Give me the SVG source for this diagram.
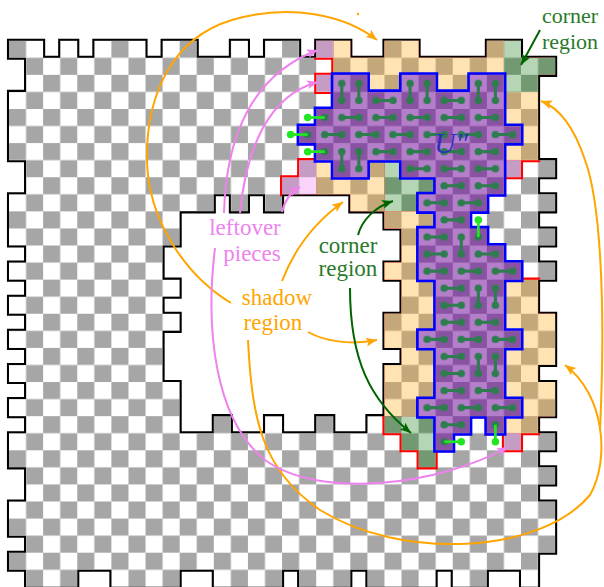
<svg xmlns="http://www.w3.org/2000/svg" width="604" height="587" viewBox="0 0 604 587">
<defs>
<style>
.lbl{font-family:'Liberation Serif',serif;font-size:23px;text-anchor:middle}
.or{fill:none;stroke:#ffa500;stroke-width:2}
.pk{fill:none;stroke:#ee82ee;stroke-width:2}
.dg{fill:none;stroke:#006400;stroke-width:2}
.dom{fill:none;stroke:#2e7d4e;stroke-width:0.18;stroke-linecap:round}
.bl{stroke:#22e622;stroke-width:0.16}
.bd{fill:#22e622}
</style>
<pattern id="pg" width="2" height="2" patternUnits="userSpaceOnUse"><rect width="2" height="2" fill="#fff"/><rect width="1" height="1" fill="#a6a6a6"/><rect x="1" y="1" width="1" height="1" fill="#a6a6a6"/></pattern>
<pattern id="ps" width="2" height="2" patternUnits="userSpaceOnUse"><rect width="2" height="2" fill="#ffe3b3"/><rect width="1" height="1" fill="#c4a87a"/><rect x="1" y="1" width="1" height="1" fill="#c4a87a"/></pattern>
<pattern id="pc" width="2" height="2" patternUnits="userSpaceOnUse"><rect width="2" height="2" fill="#b5d5b5"/><rect width="1" height="1" fill="#739973"/><rect x="1" y="1" width="1" height="1" fill="#739973"/></pattern>
<pattern id="pl" width="2" height="2" patternUnits="userSpaceOnUse"><rect width="2" height="2" fill="#fad4fa"/><rect width="1" height="1" fill="#c49cc4"/><rect x="1" y="1" width="1" height="1" fill="#c49cc4"/></pattern>
<pattern id="pu" width="2" height="2" patternUnits="userSpaceOnUse"><rect width="2" height="2" fill="#b47ecb"/><rect width="1" height="1" fill="#8a52a2"/><rect x="1" y="1" width="1" height="1" fill="#8a52a2"/><g fill="#2e7d4e"><circle cx="0.5" cy="0.5" r="0.22"/><circle cx="1.5" cy="0.5" r="0.22"/><circle cx="0.5" cy="1.5" r="0.22"/><circle cx="1.5" cy="1.5" r="0.22"/></g></pattern>
<marker id="ao" markerUnits="userSpaceOnUse" markerWidth="12" markerHeight="10" refX="11" refY="4.5" orient="auto"><path d="M0,0 L11,4.5 L0,9 L2.5,4.5z" fill="#ffa500"/></marker>
<marker id="ap" markerUnits="userSpaceOnUse" markerWidth="12" markerHeight="10" refX="11" refY="4.5" orient="auto"><path d="M0,0 L11,4.5 L0,9 L2.5,4.5z" fill="#ee82ee"/></marker>
<marker id="ag" markerUnits="userSpaceOnUse" markerWidth="12" markerHeight="10" refX="11" refY="4.5" orient="auto"><path d="M0,0 L11,4.5 L0,9 L2.5,4.5z" fill="#006400"/></marker>
<path id="bdp" d="M0 0h2v1h-2z M3 0h1v1h-1z M5 0h3v1h-3z M9 0h2v1h-2z M13 0h1v1h-1z M15 0h2v1h-2z M18 0h2v1h-2z M22 0h2v1h-2z M28 0h2v1h-2z
M1 1h31v1h-31z M1 2h30v1h-30z M0 3h31v4h-31z M1 7h31v1h-31z M1 8h30v1h-30z
M0 9h12v1h-12z M13 9h1v1h-1z M15 9h1v1h-1z M20 9h12v1h-12z
M0 10h10v1h-10z M22 10h9v1h-9z M0 11h10v1h-10z M23 11h9v1h-9z
M1 12h8v1h-8z M23 12h8v1h-8z M0 13h9v1h-9z M22 13h10v1h-10z
M1 14h9v1h-9z M23 14h8v1h-8z M0 15h9v1h-9z M23 15h8v1h-8z
M1 16h9v1h-9z M22 16h10v1h-10z M0 17h9v1h-9z M22 17h10v1h-10z
M1 18h8v1h-8z M23 18h9v1h-9z M0 19h9v1h-9z M22 19h9v1h-9z
M1 20h9v1h-9z M22 20h10v1h-10z M0 21h10v1h-10z M22 21h10v1h-10z
M1 22h9v1h-9z M12 22h1v1h-1z M15 22h1v1h-1z M18 22h1v1h-1z M21 22h10v1h-10z
M0 23h32v1h-32z M0 24h31v1h-31z M1 25h31v1h-31z M1 26h30v1h-30z M0 27h32v2h-32z M1 29h31v1h-31z M0 30h31v1h-31z
M1 31h3v1h-3z M6 31h4v1h-4z M12 31h4v1h-4z M17 31h3v1h-3z M21 31h4v1h-4z M26 31h2v1h-2z M30 31h1v1h-1z"/>
<path id="sp" d="M19 0h1v1h-1z M22 0h2v1h-2z M28 0h1v1h-1z M19 1h10v1h-10z M21 2h2v1h-2z M25 2h2v1h-2z M29 3h2v2h-2z M30 5h1v1h-1z M29 6h2v1h-2z
M18 7h1v1h-1z M21 7h1v1h-1z M18 8h4v1h-4z M20 9h2v1h-2z M22 10h3v1h-3z M23 11h1v2h-1z M22 13h2v1h-2z
M23 14h2v2h-2z M29 14h2v2h-2z M22 16h3v1h-3z M29 16h3v1h-3z M22 17h2v1h-2z M30 17h2v1h-2z M23 18h2v1h-2z M29 18h3v1h-3z
M22 19h3v1h-3z M29 19h2v1h-2z M22 20h3v1h-3z M29 20h3v1h-3z M22 21h2v1h-2z M30 21h2v1h-2z M29 22h2v1h-2z"/>
<path id="cp" d="M29 0h1v1h-1z M29 1h3v1h-3z M29 2h2v1h-2z M22 7h1v1h-1z M22 8h3v1h-3z M22 9h2v1h-2z M22 22h3v1h-3z M23 23h2v1h-2z M24 24h1v1h-1z"/>
<path id="lp" d="M18 0h1v1h-1z M18 2h1v1h-1z M17 7h1v1h-1z M16 8h2v1h-2z M29 7h1v1h-1z M29 23h1v1h-1z"/>
<path id="up" d="M19 2h2v1h-2z M23 2h2v1h-2z M27 2h2v1h-2z M19 3h10v1h-10z M18 4h11v1h-11z M17 5h13v1h-13z M18 6h11v1h-11z
M19 7h2v1h-2z M23 7h6v1h-6z M25 8h4v1h-4z M24 9h4v1h-4z M25 10h2v1h-2z M24 11h4v1h-4z M24 12h5v1h-5z M24 13h6v1h-6z
M25 14h4v3h-4z M24 17h6v1h-6z M25 18h4v3h-4z M24 21h6v1h-6z M25 22h2v1h-2z M28 22h1v1h-1z M25 23h1v1h-1z"/>
<clipPath id="cb"><use href="#bdp"/></clipPath>
</defs>
<rect width="604" height="587" fill="#fff"/>
<g id="board" transform="translate(9 40.7) scale(17.0667)">
<use href="#bdp" fill="none" stroke="#000" stroke-width="0.24"/>
<use href="#bdp" fill="url(#pg)"/>
<g id="red-outline" clip-path="url(#cb)" fill="none" stroke="#f00" stroke-width="0.24">
<use href="#sp"/><use href="#cp"/><use href="#lp"/><use href="#up"/>
</g>
<use id="shadow-cells" href="#sp" fill="url(#ps)"/>
<use id="corner-cells" href="#cp" fill="url(#pc)"/>
<use id="leftover-cells" href="#lp" fill="url(#pl)"/>
<use href="#up" fill="none" stroke="#00f" stroke-width="0.3"/>
<use id="U-cells" href="#up" fill="url(#pu)"/>
<path id="dominoes" class="dom" d="M19.5 2.5v1 M20.5 2.5v1 M23.5 2.5v1 M24.5 2.5v1 M27.5 2.5v1 M28.5 2.5v1
M21.5 3.5h1 M25.5 3.5h1
M19.5 4.5h1 M21.5 4.5h1 M23.5 4.5h1 M25.5 4.5h1 M27.5 4.5h1
M18.5 5.5h1 M20.5 5.5h1 M22.5 5.5h1 M24.5 5.5h1 M26.5 5.5h1 M28.5 5.5h1
M19.5 6.5v1 M20.5 6.5v1 M21.5 6.5h1 M23.5 6.5h1 M25.5 6.5h1 M27.5 6.5h1
M23.5 7.5h1 M25.5 7.5h1 M27.5 7.5h1
M25.5 8.5h1 M27.5 8.5h1
M24.5 9.5h1 M26.5 9.5h1
M25.5 10.5h1
M24.5 11.5h1 M26.5 11.5v1
M24.5 12.5h1 M27.5 12.5h1
M24.5 13.5h1 M26.5 13.5h1 M28.5 13.5h1
M25.5 14.5h1 M27.5 14.5v1 M28.5 14.5v1
M25.5 15.5h1
M25.5 16.5h1 M27.5 16.5h1
M24.5 17.5h1 M26.5 17.5h1 M28.5 17.5h1
M25.5 18.5h1 M27.5 18.5v1 M28.5 18.5v1
M25.5 19.5h1
M25.5 20.5h1 M27.5 20.5h1
M24.5 21.5h1 M26.5 21.5h1 M28.5 21.5h1
M25.5 22.5h1"/>
<g id="outside-dominoes">
<line class="bl" x1="17.5" y1="4.5" x2="18.5" y2="4.5"/><circle class="bd" cx="17.5" cy="4.5" r="0.22"/>
<line class="bl" x1="16.5" y1="5.5" x2="17.5" y2="5.5"/><circle class="bd" cx="16.5" cy="5.5" r="0.22"/>
<line class="bl" x1="17.5" y1="6.5" x2="18.5" y2="6.5"/><circle class="bd" cx="17.5" cy="6.5" r="0.22"/>
<line class="bl" x1="27.5" y1="10.5" x2="27.5" y2="11.5"/><circle class="bd" cx="27.5" cy="10.5" r="0.22"/>
<line class="bl" x1="26.5" y1="23.5" x2="25.5" y2="23.5"/><circle class="bd" cx="26.5" cy="23.5" r="0.22"/>
<line class="bl" x1="28.5" y1="23.5" x2="28.5" y2="22.5"/><circle class="bd" cx="28.5" cy="23.5" r="0.22"/>
</g>
</g>
<g id="connectors">
<path class="or" marker-end="url(#ao)" d="M231,303 C185,275 148,220 147,160 C146,95 172,38 232,20 C290,3 345,15 377,40"/>
<path class="or" marker-end="url(#ao)" d="M282,281 C294,250 315,222 343,202"/>
<path class="or" marker-end="url(#ao)" d="M308,332 C326,342 352,345 377,340"/>
<path class="or" marker-end="url(#ao)" d="M248,340 C252,420 262,470 320,510 C400,560 540,555 590,495 C610,460 605,395 565,365"/>
<path class="or" marker-end="url(#ao)" d="M600,430 C606,300 600,200 585,160 C575,130 560,108 541,101"/>
<circle cx="358" cy="14" r="1.2" fill="#ffa500"/>
<path class="pk" marker-end="url(#ap)" d="M224,213 C226,140 250,75 318,50"/>
<path class="pk" marker-end="url(#ap)" d="M240,213 C246,150 268,95 318,82"/>
<path class="pk" marker-end="url(#ap)" d="M282,212 C285,200 290,192 300,187"/>
<path class="pk" marker-end="url(#ap)" d="M215,248 C205,330 215,420 265,460 C320,500 440,485 508,447"/>
<path class="dg" marker-end="url(#ag)" d="M540,30 L521,65"/>
<path class="dg" marker-end="url(#ag)" d="M358,235 C362,220 375,207 393,201"/>
<path class="dg" marker-end="url(#ag)" d="M350,288 C350,360 370,400 411,433"/>
</g>
<g id="label-corner-top" class="lbl" fill="#2a7a2a"><text x="570" y="23" style="font-size:22px">corner</text><text x="570" y="49" style="font-size:22px">region</text></g>
<g id="label-corner-mid" class="lbl" fill="#2a7a2a"><text x="348" y="253">corner</text><text x="348" y="276">region</text></g>
<g id="label-leftover" class="lbl" fill="#ee82ee"><text x="245" y="235">leftover</text><text x="252" y="261">pieces</text></g>
<g id="label-shadow" class="lbl" fill="#ffa500"><text x="277" y="305">shadow</text><text x="273" y="330">region</text></g>
<g id="label-U"><text x="451" y="153" font-family="'Liberation Serif',serif" font-style="italic" font-size="30" fill="#3030c0" text-anchor="middle">U″</text></g>
</svg>
